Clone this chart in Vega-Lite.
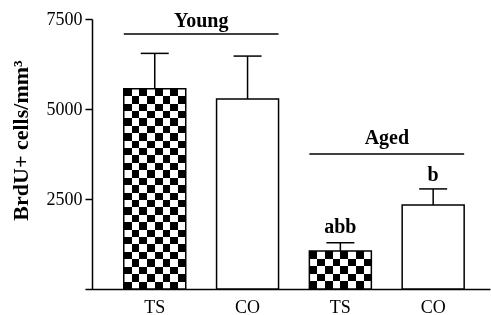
{
  "$schema": "https://vega.github.io/schema/vega-lite/v6.json",
  "width": 405,
  "height": 270,
  "autosize": {"type": "none"},
  "padding": {"left": 85, "top": 19, "right": 1, "bottom": 26},
  "background": "white",
  "config": {
    "view": {"stroke": null},
    "font": "Liberation Serif",
    "axis": {"domainColor": "black", "domainWidth": 1.5, "tickColor": "black", "tickWidth": 1.5, "labelColor": "black", "titleColor": "black", "grid": false, "labelFont": "Liberation Serif", "titleFont": "Liberation Serif"},
    "axisY": {"offset": -7, "tickSize": 7, "labelPadding": 3, "labelFontSize": 18, "titleFontSize": 22, "titleFontWeight": "bold", "titleX": -72, "titleY": 121, "titleBaseline": "middle", "titleAngle": -90}
  },
  "datasets": {
    "bars": [
      {"group": "Young TS", "type": "TS", "value": 5565, "err": 6545},
      {"group": "Young CO", "type": "CO", "value": 5280, "err": 6470},
      {"group": "Aged TS", "type": "TS", "value": 1055, "err": 1285},
      {"group": "Aged CO", "type": "CO", "value": 2335, "err": 2780}
    ],
    "brackets": [
      {"start": "Young TS", "end": "Young CO", "label": "Young", "line": 7083, "textY": 7290},
      {"start": "Aged TS", "end": "Aged CO", "label": "Aged", "line": 3750, "textY": 4030}
    ],
    "sig": [
      {"group": "Aged TS", "label": "abb", "y": 1560},
      {"group": "Aged CO", "label": "b", "y": 2990}
    ]
  },
  "encoding": {
    "x": {
      "field": "group",
      "type": "nominal",
      "scale": {"domain": ["Young TS", "Young CO", "Aged TS", "Aged CO"], "paddingInner": 0.332, "paddingOuter": 0.348, "align": 0.6},
      "axis": {"title": null, "ticks": false, "labelAngle": 0, "labelExpr": "split(datum.value, ' ')[1]", "labelFontSize": 18, "labelPadding": 9}
    }
  },
  "layer": [
    {
      "data": {"name": "bars"},
      "transform": [{"filter": "datum.type == 'CO'"}],
      "mark": {"type": "bar", "fill": "white", "stroke": "black", "strokeWidth": 1.5},
      "encoding": {
        "y": {
          "field": "value",
          "type": "quantitative",
          "scale": {"domain": [0, 7500], "nice": false},
          "title": "BrdU+ cells/mm³",
          "axis": {"values": [2500, 5000, 7500], "format": "d"}
        }
      }
    },
    {
      "data": {"name": "bars"},
      "transform": [{"filter": "datum.group == 'Young TS'"}],
      "mark": {
        "type": "bar",
        "fill": {
          "gradient": "linear", "x1": 0, "y1": 0, "x2": 0, "y2": 1,
          "stops": [
            {"offset": 0, "color": "#ffffff"}, {"offset": 0.037, "color": "#ffffff"},
            {"offset": 0.037, "color": "#000000"}, {"offset": 0.0741, "color": "#000000"},
            {"offset": 0.0741, "color": "#ffffff"}, {"offset": 0.1111, "color": "#ffffff"},
            {"offset": 0.1111, "color": "#000000"}, {"offset": 0.1481, "color": "#000000"},
            {"offset": 0.1481, "color": "#ffffff"}, {"offset": 0.1852, "color": "#ffffff"},
            {"offset": 0.1852, "color": "#000000"}, {"offset": 0.2222, "color": "#000000"},
            {"offset": 0.2222, "color": "#ffffff"}, {"offset": 0.2593, "color": "#ffffff"},
            {"offset": 0.2593, "color": "#000000"}, {"offset": 0.2963, "color": "#000000"},
            {"offset": 0.2963, "color": "#ffffff"}, {"offset": 0.3333, "color": "#ffffff"},
            {"offset": 0.3333, "color": "#000000"}, {"offset": 0.3704, "color": "#000000"},
            {"offset": 0.3704, "color": "#ffffff"}, {"offset": 0.4074, "color": "#ffffff"},
            {"offset": 0.4074, "color": "#000000"}, {"offset": 0.4444, "color": "#000000"},
            {"offset": 0.4444, "color": "#ffffff"}, {"offset": 0.4815, "color": "#ffffff"},
            {"offset": 0.4815, "color": "#000000"}, {"offset": 0.5185, "color": "#000000"},
            {"offset": 0.5185, "color": "#ffffff"}, {"offset": 0.5556, "color": "#ffffff"},
            {"offset": 0.5556, "color": "#000000"}, {"offset": 0.5926, "color": "#000000"},
            {"offset": 0.5926, "color": "#ffffff"}, {"offset": 0.6296, "color": "#ffffff"},
            {"offset": 0.6296, "color": "#000000"}, {"offset": 0.6667, "color": "#000000"},
            {"offset": 0.6667, "color": "#ffffff"}, {"offset": 0.7037, "color": "#ffffff"},
            {"offset": 0.7037, "color": "#000000"}, {"offset": 0.7407, "color": "#000000"},
            {"offset": 0.7407, "color": "#ffffff"}, {"offset": 0.7778, "color": "#ffffff"},
            {"offset": 0.7778, "color": "#000000"}, {"offset": 0.8148, "color": "#000000"},
            {"offset": 0.8148, "color": "#ffffff"}, {"offset": 0.8519, "color": "#ffffff"},
            {"offset": 0.8519, "color": "#000000"}, {"offset": 0.8889, "color": "#000000"},
            {"offset": 0.8889, "color": "#ffffff"}, {"offset": 0.9259, "color": "#ffffff"},
            {"offset": 0.9259, "color": "#000000"}, {"offset": 0.963, "color": "#000000"},
            {"offset": 0.963, "color": "#ffffff"}, {"offset": 1, "color": "#ffffff"}
          ]
        }
      },
      "encoding": {"y": {"field": "value", "type": "quantitative"}}
    },
    {
      "data": {"name": "bars"},
      "transform": [{"filter": "datum.group == 'Aged TS'"}],
      "mark": {
        "type": "bar",
        "fill": {
          "gradient": "linear", "x1": 0, "y1": 0, "x2": 0, "y2": 1,
          "stops": [
            {"offset": 0, "color": "#ffffff"}, {"offset": 0.2, "color": "#ffffff"},
            {"offset": 0.2, "color": "#000000"}, {"offset": 0.4, "color": "#000000"},
            {"offset": 0.4, "color": "#ffffff"}, {"offset": 0.6, "color": "#ffffff"},
            {"offset": 0.6, "color": "#000000"}, {"offset": 0.8, "color": "#000000"},
            {"offset": 0.8, "color": "#ffffff"}, {"offset": 1, "color": "#ffffff"}
          ]
        }
      },
      "encoding": {"y": {"field": "value", "type": "quantitative"}}
    },
    {
      "data": {"name": "bars"},
      "transform": [{"filter": "datum.type == 'TS'"}],
      "mark": {
        "type": "bar",
        "blend": "difference",
        "fill": {
          "gradient": "linear", "x1": 0, "y1": 0, "x2": 1, "y2": 0,
          "stops": [
            {"offset": 0, "color": "#ffffff"}, {"offset": 0.125, "color": "#ffffff"},
            {"offset": 0.125, "color": "#000000"}, {"offset": 0.25, "color": "#000000"},
            {"offset": 0.25, "color": "#ffffff"}, {"offset": 0.375, "color": "#ffffff"},
            {"offset": 0.375, "color": "#000000"}, {"offset": 0.5, "color": "#000000"},
            {"offset": 0.5, "color": "#ffffff"}, {"offset": 0.625, "color": "#ffffff"},
            {"offset": 0.625, "color": "#000000"}, {"offset": 0.75, "color": "#000000"},
            {"offset": 0.75, "color": "#ffffff"}, {"offset": 0.875, "color": "#ffffff"},
            {"offset": 0.875, "color": "#000000"}, {"offset": 1, "color": "#000000"}
          ]
        }
      },
      "encoding": {"y": {"field": "value", "type": "quantitative"}}
    },
    {
      "data": {"name": "bars"},
      "transform": [{"filter": "datum.type == 'TS'"}],
      "mark": {"type": "bar", "fillOpacity": 0, "stroke": "black", "strokeWidth": 1.5},
      "encoding": {"y": {"field": "value", "type": "quantitative"}}
    },
    {
      "data": {"name": "bars"},
      "mark": {"type": "rule", "color": "black", "strokeWidth": 1.5},
      "encoding": {
        "y": {"field": "value", "type": "quantitative"},
        "y2": {"field": "err"}
      }
    },
    {
      "data": {"name": "bars"},
      "mark": {"type": "tick", "color": "black", "thickness": 1.5, "size": 28, "opacity": 1},
      "encoding": {"y": {"field": "err", "type": "quantitative"}}
    },
    {
      "data": {"name": "brackets"},
      "mark": {"type": "rule", "color": "black", "strokeWidth": 1.5},
      "encoding": {
        "x": {"field": "start", "type": "nominal", "bandPosition": 0},
        "x2": {"field": "end", "bandPosition": 1},
        "y": {"field": "line", "type": "quantitative"}
      }
    },
    {
      "data": {"name": "brackets"},
      "mark": {"type": "text", "font": "Liberation Serif", "fontWeight": "bold", "fontSize": 20, "color": "black", "baseline": "alphabetic", "align": "center"},
      "encoding": {
        "x": {"field": "start", "type": "nominal", "bandPosition": 1.25},
        "y": {"field": "textY", "type": "quantitative"},
        "text": {"field": "label"}
      }
    },
    {
      "data": {"name": "sig"},
      "mark": {"type": "text", "font": "Liberation Serif", "fontWeight": "bold", "fontSize": 20, "color": "black", "baseline": "alphabetic", "align": "center"},
      "encoding": {
        "y": {"field": "y", "type": "quantitative"},
        "text": {"field": "label"}
      }
    }
  ]
}
